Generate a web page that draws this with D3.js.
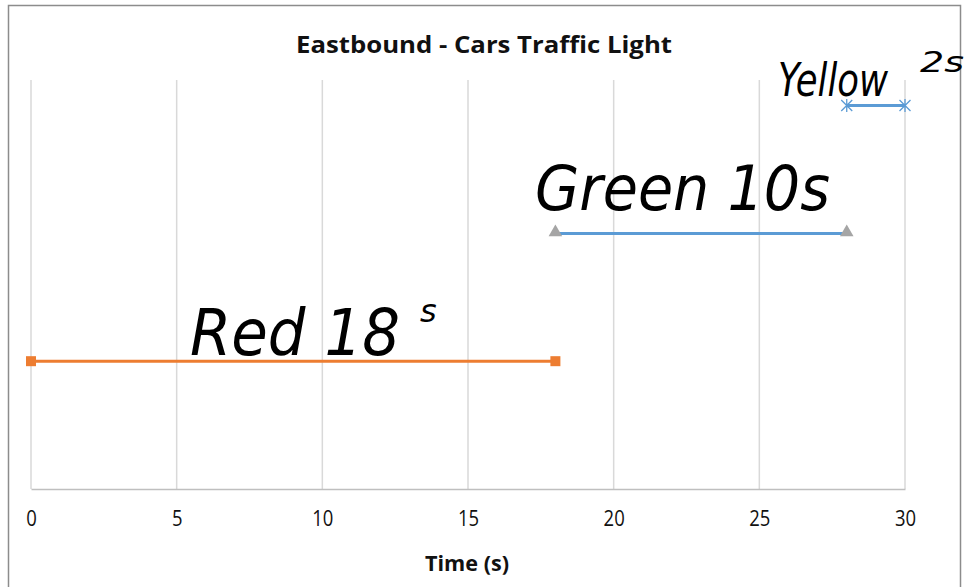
<!DOCTYPE html>
<html>
<head>
<meta charset="utf-8">
<script src="https://cdn.jsdelivr.net/npm/d3@7"></script>
<style>
  html, body { margin: 0; padding: 0; background: #fff; }
  svg { display: block; }
</style>
</head>
<body>
<svg id="chart" width="977" height="587"></svg>
<script>
// Phases of the eastbound light cycle: start/end time (s) and lane level
const phaseNames = ["Red", "Green", "Yellow"];
const phaseStart = [0, 18, 28];
const phaseEnd = [18, 28, 30];
const phaseLevel = [1, 2, 3];
const xTicks = [0, 5, 10, 15, 20, 25, 30];
const chartTitle = "Eastbound - Cars Traffic Light";
const xAxisTitle = "Time (s)";
// Hand-written notes next to each phase: main text and raised suffix
const noteMain = ["Red 18", "Green 10s", "Yellow"];
const noteSup = ["s", "", "2s"];

const svg = d3.select("#chart");
const uiFont = "Open Sans, Noto Sans, sans-serif";

// Outer frame of the chart
svg.append("rect")
  .attr("x", 8.5).attr("y", 5.5)
  .attr("width", 952).attr("height", 600)
  .attr("fill", "#fff")
  .attr("stroke", "#8c8c8c").attr("stroke-width", 1.5);

const x = d3.scaleLinear().domain([0, 30]).range([31, 905]);
const y = d3.scaleLinear().domain([0, 3.2]).range([489, 80]);

// Vertical gridlines
svg.append("g")
  .selectAll("line")
  .data(xTicks)
  .join("line")
  .attr("x1", d => x(d)).attr("x2", d => x(d))
  .attr("y1", y(3.2)).attr("y2", y(0))
  .attr("stroke", "#d9d9d9").attr("stroke-width", 1.5);

// Bottom axis: baseline plus tick labels
const xAxis = d3.axisBottom(x).tickValues(xTicks).tickSize(0).tickPadding(22);
const gx = svg.append("g")
  .attr("transform", `translate(0,${y(0)})`)
  .call(xAxis);
gx.select(".domain").attr("stroke", "#bfbfbf").attr("stroke-width", 1.5);
gx.selectAll("text")
  .attr("font-family", uiFont)
  .attr("font-size", 21)
  .attr("fill", "#111")
  .attr("transform", "scale(0.88,1)");

// Title and axis title
svg.append("text")
  .attr("x", 484).attr("y", 53)
  .attr("text-anchor", "middle")
  .attr("font-family", uiFont)
  .attr("font-weight", "bold")
  .attr("font-size", 23)
  .attr("fill", "#111")
  .attr("textLength", 376).attr("lengthAdjust", "spacingAndGlyphs")
  .text(chartTitle);

svg.append("text")
  .attr("x", 467).attr("y", 571)
  .attr("text-anchor", "middle")
  .attr("font-family", uiFont)
  .attr("font-weight", "bold")
  .attr("font-size", 22)
  .attr("fill", "#111")
  .attr("textLength", 84).attr("lengthAdjust", "spacingAndGlyphs")
  .text(xAxisTitle);

const lineColor = ["#ED7D31", "#5B9BD5", "#5B9BD5"];
const phases = phaseNames.map((n, i) => ({
  name: n, start: phaseStart[i], end: phaseEnd[i], level: phaseLevel[i], color: lineColor[i]
}));

// Phase lines
svg.append("g")
  .selectAll("line")
  .data(phases)
  .join("line")
  .attr("x1", d => x(d.start)).attr("x2", d => x(d.end))
  .attr("y1", d => y(d.level)).attr("y2", d => y(d.level))
  .attr("stroke", d => d.color).attr("stroke-width", 3);

// End markers: squares for red, triangles for green, stars for yellow
const markers = [];
phases.forEach((p, i) => {
  markers.push({ t: p.start, level: p.level, i });
  markers.push({ t: p.end, level: p.level, i });
});
const mg = svg.append("g");
markers.forEach(m => {
  const cx = x(m.t), cy = y(m.level);
  if (m.i === 0) {
    mg.append("rect")
      .attr("x", cx - 5).attr("y", cy - 5)
      .attr("width", 10).attr("height", 10)
      .attr("fill", "#ED7D31");
  } else if (m.i === 1) {
    mg.append("path")
      .attr("d", d3.symbol(d3.symbolTriangle, 80)())
      .attr("transform", `translate(${cx},${cy - 1})`)
      .attr("fill", "#A5A5A5");
  } else {
    const s = 5.5;
    mg.append("path")
      .attr("d", `M${cx - s},${cy - s}L${cx + s},${cy + s}M${cx - s},${cy + s}L${cx + s},${cy - s}M${cx},${cy - s - 1}L${cx},${cy + s + 1}`)
      .attr("stroke", "#5B9BD5").attr("stroke-width", 1.3).attr("fill", "none");
  }
});

// Hand-written style notes
const notes = svg.append("g")
  .attr("font-family", "DejaVu Sans, sans-serif")
  .attr("fill", "#000")
  .attr("font-style", "italic");

notes.append("text")
  .attr("x", 190).attr("y", 355)
  .attr("font-size", 64)
  .attr("textLength", 210).attr("lengthAdjust", "spacingAndGlyphs")
  .text(noteMain[0]);
notes.append("text")
  .attr("x", 420).attr("y", 322)
  .attr("font-size", 32)
  .text(noteSup[0]);

notes.append("text")
  .attr("x", 535).attr("y", 210)
  .attr("font-size", 62)
  .attr("textLength", 295).attr("lengthAdjust", "spacingAndGlyphs")
  .text(noteMain[1]);

notes.append("text")
  .attr("x", 778).attr("y", 96)
  .attr("font-size", 46)
  .attr("textLength", 110).attr("lengthAdjust", "spacingAndGlyphs")
  .text(noteMain[2]);
notes.append("text")
  .attr("x", 920).attr("y", 72)
  .attr("font-size", 28)
  .attr("textLength", 44).attr("lengthAdjust", "spacingAndGlyphs")
  .text(noteSup[2]);
</script>
</body>
</html>
